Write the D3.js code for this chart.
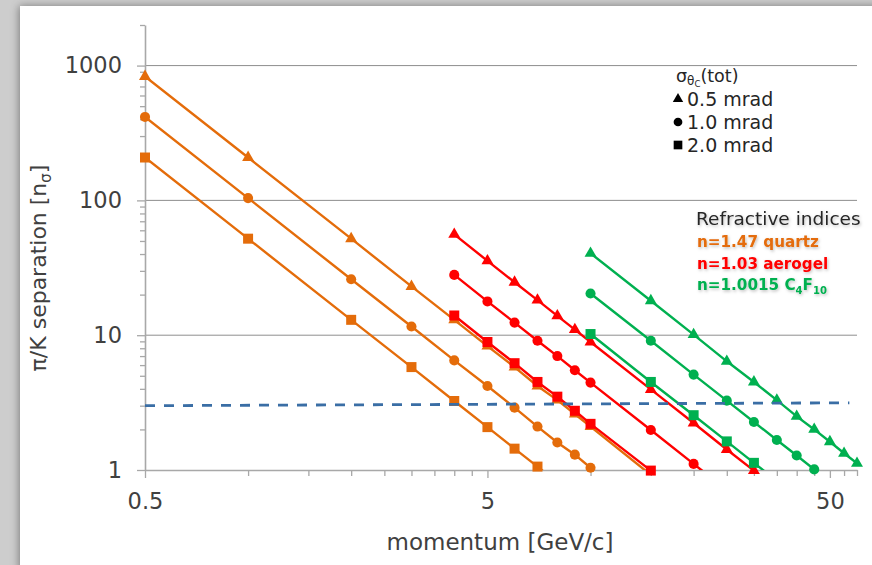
<!DOCTYPE html>
<html>
<head>
<meta charset="utf-8">
<script src="https://cdn.jsdelivr.net/npm/d3@7"></script>
<style>
  body { margin: 0; background: #fff; }
  svg { display: block; }
</style>
</head>
<body>
<svg id="chart" width="872" height="565"></svg>
<script>
// Momentum grid shared by every curve (GeV/c)
const momentum = [0.5, 1, 2, 3, 4, 5, 6, 7, 8, 9, 10, 15, 20, 25, 30, 35, 40, 45, 50, 55, 60];

// pi/K separation in units of sigma, per radiator and Cherenkov-angle resolution
const quartz05 = [830, 208, 52, 23, 13, 8.3, 5.8, 4.2, 3.3, 2.6, 2.1, 0.92, null, null, null, null, null, null, null, null, null];
const quartz10 = [416, 104, 26, 11.6, 6.5, 4.2, 2.9, 2.1, 1.6, 1.3, 1.04, 0.46, null, null, null, null, null, null, null, null, null];
const quartz20 = [208, 52, 13, 5.8, 3.25, 2.08, 1.44, 1.06, 0.81, null, null, null, null, null, null, null, null, null, null, null, null];

const aerogel05 = [null, null, null, null, 56, 35.6, 24.7, 18.2, 13.9, 11.0, 8.9, 3.96, 2.23, 1.42, 0.99, null, null, null, null, null, null];
const aerogel10 = [null, null, null, null, 28, 17.8, 12.4, 9.1, 7.0, 5.5, 4.45, 1.98, 1.11, 0.71, null, null, null, null, null, null, null];
const aerogel20 = [null, null, null, null, 14, 8.9, 6.2, 4.5, 3.5, 2.75, 2.2, 0.99, null, null, null, null, null, null, null, null, null];

const c4f10_05 = [null, null, null, null, null, null, null, null, null, null, 40.5, 18, 10.1, 6.4, 4.5, 3.3, 2.5, 2.0, 1.62, 1.33, 1.12];
const c4f10_10 = [null, null, null, null, null, null, null, null, null, null, 20.4, 9.1, 5.1, 3.27, 2.27, 1.67, 1.28, 1.01, 0.82, null, null];
const c4f10_20 = [null, null, null, null, null, null, null, null, null, null, 10.2, 4.5, 2.55, 1.63, 1.13, 0.83, null, null, null, null, null];

// 3-sigma reference line
const refMomentum = [0.5, 57];
const refSeparation = [3.0, 3.15];

// Axis ticks
const xMajorTicks = [0.5, 5, 50];
const xTickLabels = ["0.5", "5", "50"];
const xMinorTicks = [1, 1.5, 2, 2.5, 3, 3.5, 4, 4.5, 10, 15, 20, 25, 30, 35, 40, 45, 55, 60];
const yMajorTicks = [1, 10, 100, 1000];
const yTickLabels = ["1", "10", "100", "1000"];
const yMinorTicks = [2, 3, 4, 5, 6, 7, 8, 9, 20, 30, 40, 50, 60, 70, 80, 90, 200, 300, 400, 500, 600, 700, 800, 900, 2000];

// Radiators and resolutions
const radiators = ["n=1.47 quartz", "n=1.03 aerogel", "n=1.0015 C4F10"];
const radiatorColors = ["#e46c0a", "#ff0000", "#00b050"];
const resolutions = ["0.5 mrad", "1.0 mrad", "2.0 mrad"];
const resolutionSymbols = [d3.symbolTriangle, d3.symbolCircle, d3.symbolSquare];
const symbolSizes = [62, 80, 100];
const seriesValues = [
  [quartz05, quartz10, quartz20],
  [aerogel05, aerogel10, aerogel20],
  [c4f10_05, c4f10_10, c4f10_20]
];

const FONT = "'DejaVu Sans', sans-serif";
const W = 872, H = 565;
const svg = d3.select("#chart");
const defs = svg.append("defs");

// Slide-style frame
const shadow = defs.append("filter").attr("id", "panelShadow")
  .attr("x", "-10%").attr("y", "-10%").attr("width", "120%").attr("height", "120%");
shadow.append("feDropShadow").attr("dx", -1).attr("dy", 0).attr("stdDeviation", 4)
  .attr("flood-color", "#000").attr("flood-opacity", 0.4);
const glow = defs.append("filter").attr("id", "textGlow")
  .attr("x", "-10%").attr("y", "-30%").attr("width", "120%").attr("height", "160%");
glow.append("feDropShadow").attr("dx", 1).attr("dy", 1.5).attr("stdDeviation", 1.5)
  .attr("flood-color", "#000").attr("flood-opacity", 0.25);

svg.append("rect").attr("width", W).attr("height", H).attr("fill", "#cdcdcd");
svg.append("rect").attr("x", 20).attr("y", 6).attr("width", W).attr("height", H)
  .attr("fill", "#fff").attr("filter", "url(#panelShadow)");

// Scales
const x = d3.scaleLog().domain([0.5, 60]).range([145, 857]);
const y = d3.scaleLog().domain([1, 2000]).range([470, 25]);
const [x0, x1] = x.range();
const [yBottom, yTop] = y.range();

defs.append("clipPath").attr("id", "plotClip")
  .append("rect").attr("x", x0).attr("y", yTop).attr("width", x1 - x0).attr("height", yBottom - yTop);

// Horizontal gridlines
svg.append("g").selectAll("line")
  .data(yMajorTicks.filter(v => v > 1))
  .join("line")
  .attr("x1", x0).attr("x2", x1)
  .attr("y1", d => y(d)).attr("y2", d => y(d))
  .attr("stroke", "#8e8e8e").attr("stroke-width", 1);

const AXIS = "#a8a8a8";
function styleAxis(g) {
  g.selectAll("path.domain").attr("stroke", AXIS).attr("stroke-width", 1.6);
  g.selectAll(".tick line").attr("stroke", AXIS).attr("stroke-width", 1.3);
  g.selectAll(".tick text").attr("fill", "#404040").attr("font-family", FONT).attr("font-size", 22.5);
}

// Minor ticks
svg.append("g").attr("transform", `translate(0,${yBottom})`)
  .call(d3.axisBottom(x).tickValues(xMinorTicks).tickSize(6).tickFormat(""))
  .call(g => g.select(".domain").remove())
  .call(styleAxis);
svg.append("g").attr("transform", `translate(${x0},0)`)
  .call(d3.axisLeft(y).tickValues(yMinorTicks).tickSize(5).tickFormat(""))
  .call(g => g.select(".domain").remove())
  .call(styleAxis);

// Major axes
svg.append("g").attr("transform", `translate(0,${yBottom})`)
  .call(d3.axisBottom(x).tickValues(xMajorTicks).tickSize(8).tickSizeOuter(0).tickPadding(15)
    .tickFormat((d, i) => xTickLabels[i]))
  .call(styleAxis);
svg.append("g").attr("transform", `translate(${x0},0)`)
  .call(d3.axisLeft(y).tickValues(yMajorTicks).tickSize(8).tickSizeOuter(0).tickPadding(15)
    .tickFormat((d, i) => yTickLabels[i]))
  .call(styleAxis);

// Axis titles
svg.append("text")
  .attr("x", 500).attr("y", 550).attr("text-anchor", "middle")
  .attr("font-family", FONT).attr("font-size", 23).attr("fill", "#404040")
  .text("momentum [GeV/c]");
const yTitle = svg.append("text")
  .attr("transform", "translate(46,268) rotate(-90)").attr("text-anchor", "middle")
  .attr("font-family", FONT).attr("font-size", 22).attr("fill", "#404040");
yTitle.append("tspan").text("π/K separation [n");
yTitle.append("tspan").attr("font-size", 15).attr("dy", 5).text("σ");
yTitle.append("tspan").attr("dy", -5).text("]");

// Curves
const plot = svg.append("g");
const line = d3.line()
  .defined(d => d.v != null)
  .x(d => x(d.p))
  .y(d => y(d.v));

seriesValues.forEach((group, r) => {
  group.forEach((vals, s) => {
    const pts = momentum.map((p, i) => ({ p, v: vals[i] }));
    plot.append("path")
      .datum(pts)
      .attr("d", line)
      .attr("fill", "none")
      .attr("stroke", radiatorColors[r])
      .attr("stroke-width", 2.4)
      .attr("clip-path", "url(#plotClip)");
    plot.append("g").selectAll("path")
      .data(pts.filter(d => d.v != null && d.v >= 0.95))
      .join("path")
      .attr("transform", d => `translate(${x(d.p)},${y(d.v)})`)
      .attr("d", d3.symbol().type(resolutionSymbols[s]).size(symbolSizes[s]))
      .attr("fill", radiatorColors[r]);
  });
});

// 3-sigma reference line
svg.append("path")
  .datum(refMomentum.map((p, i) => ({ p, v: refSeparation[i] })))
  .attr("d", line)
  .attr("fill", "none")
  .attr("stroke", "#3a6ea5")
  .attr("stroke-width", 2.8)
  .attr("stroke-dasharray", "10,9");

// Resolution legend
const legend = svg.append("g").attr("font-family", FONT).attr("fill", "#262626");
const lt = legend.append("text").attr("x", 676).attr("y", 82).attr("font-size", 17.5);
lt.append("tspan").text("σ");
lt.append("tspan").attr("font-size", 12).attr("dy", 3).text("θ");
lt.append("tspan").attr("font-size", 8.5).attr("dy", 2).text("C");
lt.append("tspan").attr("dy", -5).text("(tot)");
resolutions.forEach((label, i) => {
  const cy = 99 + i * 23;
  legend.append("path")
    .attr("transform", `translate(678,${cy})`)
    .attr("d", d3.symbol().type(resolutionSymbols[i]).size(symbolSizes[i] * 0.75))
    .attr("fill", "#000");
  legend.append("text").attr("x", 687).attr("y", cy + 6.5).attr("font-size", 19).text(label);
});

// Radiator legend
legend.append("text").attr("x", 696).attr("y", 225).attr("font-size", 18.5)
  .attr("fill", "#262626").attr("filter", "url(#textGlow)").text("Refractive indices");
radiators.forEach((label, i) => {
  const t = legend.append("text").attr("x", 697).attr("y", 247 + i * 21.5)
    .attr("font-size", 15.2).attr("font-weight", "bold")
    .attr("fill", radiatorColors[i]).attr("filter", "url(#textGlow)");
  const m = label.match(/^(.*C)4F10$/);
  if (m) {
    t.append("tspan").text(m[1]);
    t.append("tspan").attr("font-size", 10).attr("dy", 4).text("4");
    t.append("tspan").attr("dy", -4).text("F");
    t.append("tspan").attr("font-size", 10).attr("dy", 4).text("10");
  } else {
    t.text(label);
  }
});
</script>
</body>
</html>
